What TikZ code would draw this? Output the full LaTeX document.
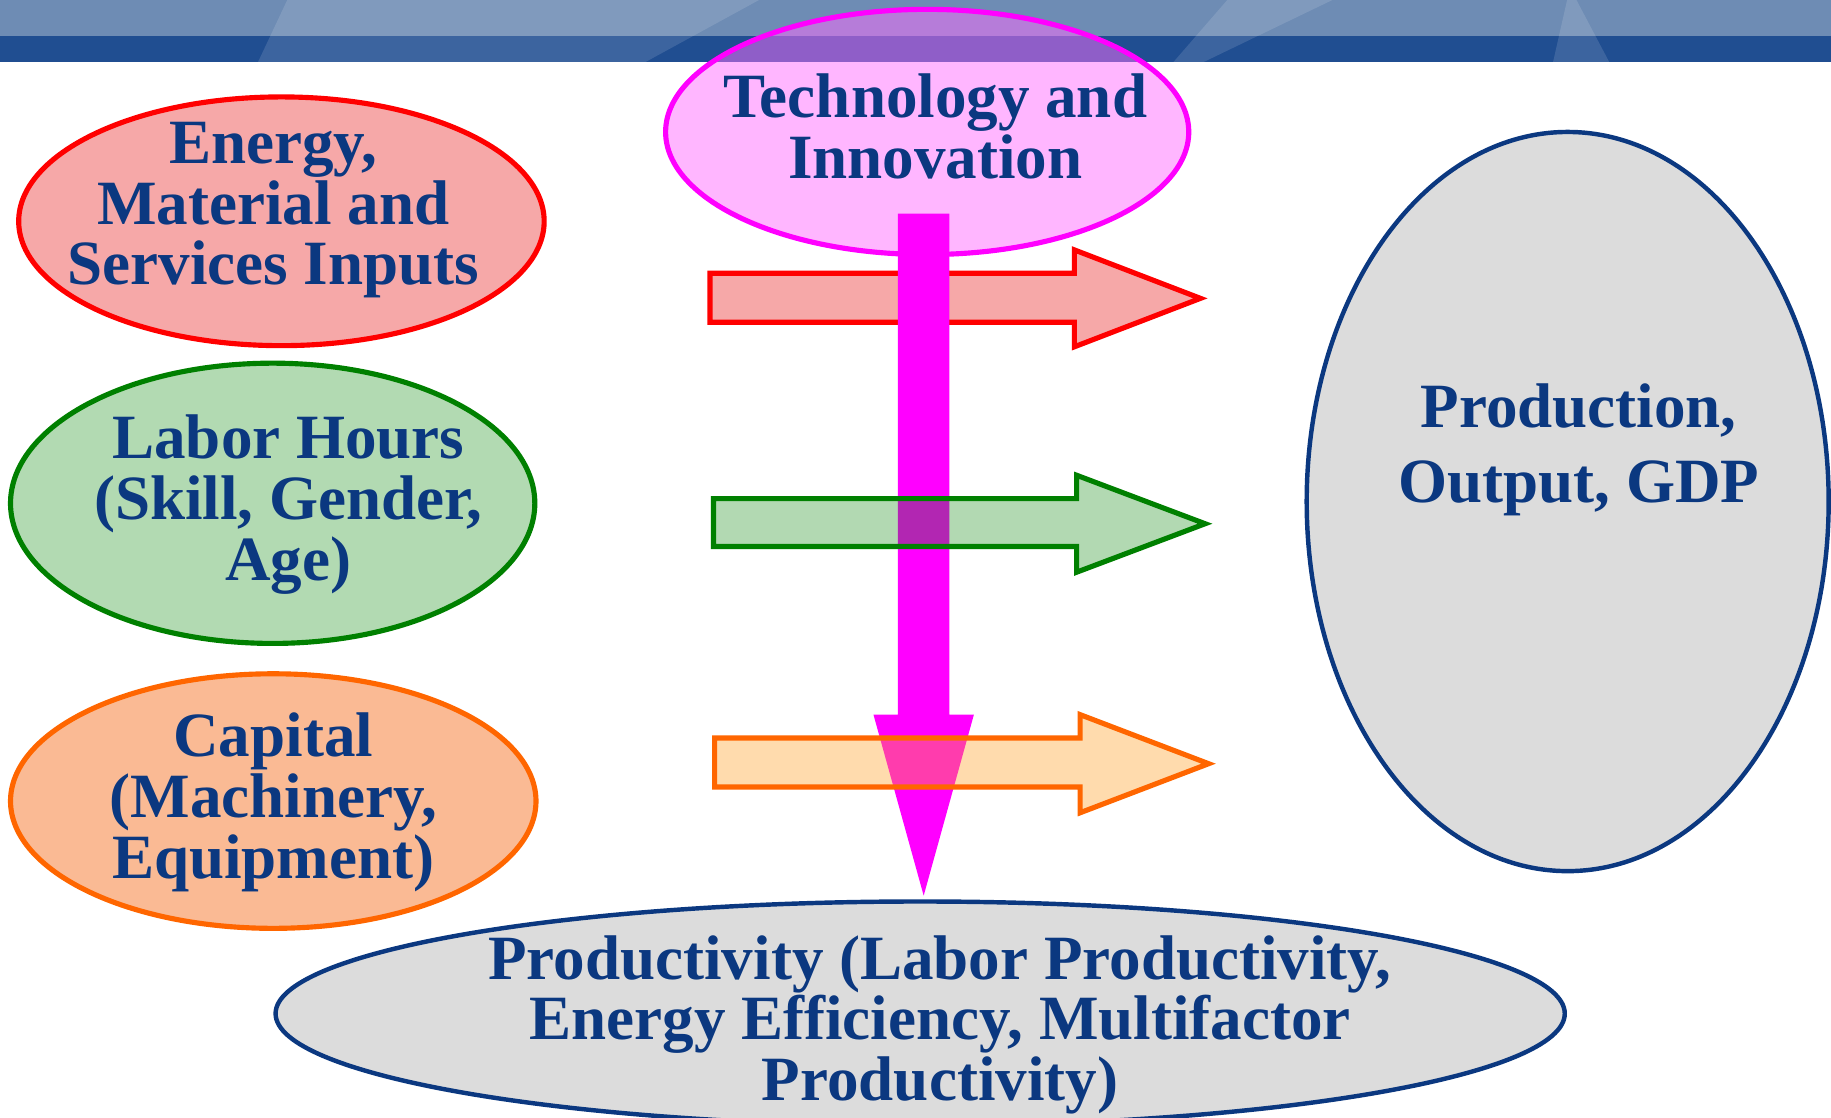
\documentclass[tikz,border=0pt]{standalone}
\usepackage{fontspec}
\setmainfont{Liberation Serif}
\usetikzlibrary{shapes.geometric}
\definecolor{navytxt}{RGB}{11,56,128}
\definecolor{bannerlight}{RGB}{110,140,180}
\definecolor{bannerdark}{RGB}{32,78,145}
\definecolor{redfill}{RGB}{246,168,168}
\definecolor{greenfill}{RGB}{178,218,178}
\definecolor{orangefill}{RGB}{250,186,148}
\definecolor{pinkfill}{RGB}{255,110,255}
\definecolor{grayfill}{RGB}{220,220,220}
\definecolor{darkgreen}{RGB}{0,128,0}
\definecolor{orangeline}{RGB}{255,102,0}
\definecolor{orangearrow}{RGB}{255,160,40}
\definecolor{magentafull}{RGB}{255,0,255}
\tikzset{
  ellbox/.style={ellipse, inner sep=0pt},
  txt/.style={text=navytxt, align=center, inner sep=0pt,
    font=\bfseries\fontsize{27}{26}\selectfont},
  blockarrow/.style={line width=2.2pt, line join=miter},
  streak/.style={fill=white, fill opacity=0.13, draw=none}
}
\begin{document}
\begin{tikzpicture}
\begin{scope}[x=0.5pt,y=-0.5pt]
\useasboundingbox (0,0) rectangle (1568,957);
\clip (0,0) rectangle (1568,957);
% banner
\fill[bannerlight] (0,0) rectangle (1568,31);
\fill[bannerdark] (0,31) rectangle (1568,53);
\fill[streak] (246,0) -- (650,0) -- (553,53) -- (221,53) -- cycle;
\fill[streak] (1051,0) -- (1141,0) -- (1031,53) -- (1005,53) -- cycle;
\fill[streak] (1342,0) -- (1350,0) -- (1378,53) -- (1330,53) -- cycle;

% ellipses
\node[ellbox, draw=magentafull, line width=2.2pt, fill=pinkfill, fill opacity=0.5,
      minimum width=224pt, minimum height=105pt] (tech) at (794,113) {};
\node[ellbox, draw=red, line width=2.2pt, fill=redfill,
      minimum width=225pt, minimum height=106.5pt] (energy) at (241,189.5) {};
\node[ellbox, draw=darkgreen, line width=2.2pt, fill=greenfill,
      minimum width=224.5pt, minimum height=120pt] (labor) at (233.5,431) {};
\node[ellbox, draw=orangeline, line width=2.2pt, fill=orangefill,
      minimum width=225pt, minimum height=109pt] (capital) at (234,686) {};
\node[ellbox, draw=navytxt, line width=1.9pt, fill=grayfill,
      minimum width=223.5pt, minimum height=316.5pt] (production) at (1342.5,429.5) {};
\node[ellbox, draw=navytxt, line width=1.9pt, fill=grayfill,
      minimum width=552pt, minimum height=96pt] (productivity) at (788,868) {};

% texts
\node[txt] (techT) at (801,108) {Technology and\\Innovation};
\node[txt] (energyT) at (234,180) {Energy,\\Material and\\Services Inputs};
\node[txt] (laborT) at (247,432) {Labor Hours\\(Skill, Gender,\\Age)};
\node[txt] (capitalT) at (234,687) {Capital\\(Machinery,\\Equipment)};
\node[txt, font=\bfseries\fontsize{27}{32}\selectfont] (productionT) at (1352,385.5) {Production,\\Output, GDP};
\node[txt] (productivityT) at (805,877.5) {Productivity (Labor Productivity,\\Energy Efficiency, Multifactor\\Productivity)};

% red arrow (below the magenta arrow)
\draw[blockarrow, draw=red, fill=redfill]
  (608,234) -- (920,234) -- (920,214) -- (1028,255.5) -- (920,297) -- (920,276) -- (608,276) -- cycle;

% magenta down arrow
\coordinate (mtop) at (791,183);
\coordinate (mtip) at (791,767);
\fill[magentafull] (769,183) -- (813,183) -- (813,612) -- (834,612) -- (mtip) -- (748,612) -- (769,612) -- cycle;

% green arrow (semi-transparent fill, on top)
\draw[blockarrow, draw=darkgreen, fill=darkgreen, fill opacity=0.3]
  (611,427) -- (922,427) -- (922,407) -- (1032,448.5) -- (922,490) -- (922,468) -- (611,468) -- cycle;

% orange arrow
\draw[blockarrow, draw=orangeline, fill=orangearrow, fill opacity=0.38]
  (612,632) -- (925,632) -- (925,612) -- (1035,654) -- (925,696) -- (925,674) -- (612,674) -- cycle;
\end{scope}
\end{tikzpicture}
\end{document}
